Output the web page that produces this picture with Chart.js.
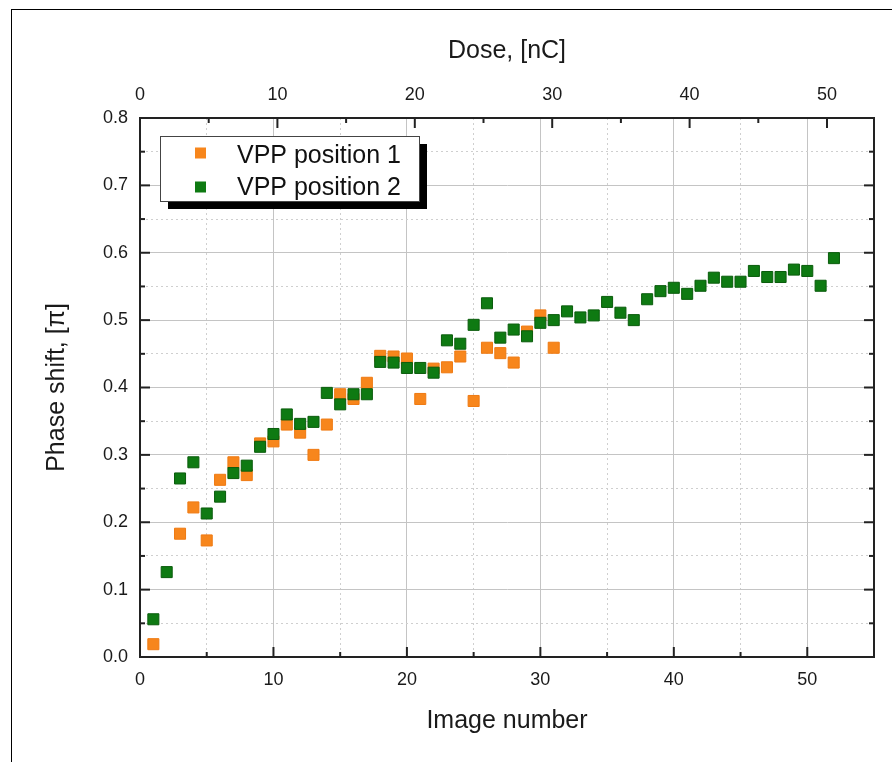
<!DOCTYPE html>
<html>
<head>
<meta charset="utf-8">
<script src="https://cdn.jsdelivr.net/npm/chart.js@4.4.0/dist/chart.umd.min.js"></script>
<style>
  html, body { margin: 0; padding: 0; background: #fff; }
  #frame { position: absolute; left: 11px; top: 9px; width: 900px; height: 800px;
           border-left: 1.5px solid #000; border-top: 1.5px solid #000; }
  #c { position: absolute; left: 0; top: 0; }
</style>
</head>
<body>
<div id="frame"></div>
<canvas id="c" width="892" height="762"></canvas>
<script>
// ---- data ----
const pos1Images = [1,3,4,5,6,7,8,9,10,11,12,13,14,15,16,17,18,19,20,21,22,23,24,25,26,27,28,29,30,31];
const pos1Phase  = [0.019,0.183,0.222,0.173,0.263,0.289,0.270,0.317,0.320,0.345,0.333,0.300,0.345,0.390,0.383,0.407,0.447,0.446,0.443,0.383,0.428,0.430,0.446,0.380,0.459,0.451,0.437,0.483,0.507,0.459];
const pos2Images = [1,2,3,4,5,6,7,8,9,10,11,12,13,14,15,16,17,18,19,20,21,22,23,24,25,26,27,28,29,30,31,32,33,34,35,36,37,38,39,40,41,42,43,44,45,46,47,48,49,50,51,52];
const pos2Phase  = [0.056,0.126,0.265,0.289,0.213,0.238,0.273,0.284,0.312,0.331,
                    0.360,0.346,0.349,0.392,0.375,0.390,0.390,0.438,0.437,0.429,
                    0.429,0.422,0.470,0.465,0.493,0.525,0.474,0.486,0.476,0.496,
                    0.500,0.513,0.504,0.507,0.527,0.511,0.500,0.531,0.543,0.548,
                    0.539,0.551,0.563,0.557,0.557,0.573,0.564,0.564,0.575,0.573,
                    0.551,0.592];
const seriesNames = ['VPP position 1', 'VPP position 2'];
const xRange = [0, 55];
const doseRange = [0, 53.42];
const yRange = [0, 0.8];

const FONT = '"Liberation Sans", Arial, sans-serif';
const ORANGE = '#f7861c', ORANGE_B = '#ef7a12';
const GREEN = '#0e7a12', GREEN_B = '#0a5c0c';

const isMult = (v, step) => Math.abs(v / step - Math.round(v / step)) < 1e-6;

// inward ticks on all four axes
const inTicks = {
  id: 'inTicks',
  afterDraw(chart) {
    const ctx = chart.ctx, a = chart.chartArea;
    ctx.save();
    ctx.strokeStyle = '#222';
    ctx.lineWidth = 2;
    const draw = (scale, majorStep, side) => {
      scale.ticks.forEach(t => {
        if (!isMult(t.value, majorStep / 2)) return;
        const p = scale.getPixelForValue(t.value);
        const len = isMult(t.value, majorStep) ? 10 : 5;
        ctx.beginPath();
        if (side === 'bottom') { ctx.moveTo(p, a.bottom); ctx.lineTo(p, a.bottom - len); }
        if (side === 'top')    { ctx.moveTo(p, a.top);    ctx.lineTo(p, a.top + len); }
        if (side === 'left')   { ctx.moveTo(a.left, p);   ctx.lineTo(a.left + len, p); }
        if (side === 'right')  { ctx.moveTo(a.right, p);  ctx.lineTo(a.right - len, p); }
        ctx.stroke();
      });
    };
    draw(chart.scales.x, 10, 'bottom');
    draw(chart.scales.x2, 10, 'top');
    draw(chart.scales.y, 0.1, 'left');
    draw(chart.scales.y2, 0.1, 'right');
    ctx.restore();
  }
};

// legend box with drop shadow inside plot
const boxLegend = {
  id: 'boxLegend',
  afterDraw(chart) {
    const ctx = chart.ctx;
    const x = 160, y = 136, w = 259, h = 65;
    ctx.save();
    ctx.fillStyle = '#000';
    ctx.fillRect(x + 8, y + 8, w, h);
    ctx.fillStyle = '#fff';
    ctx.fillRect(x, y, w, h);
    ctx.strokeStyle = '#444';
    ctx.lineWidth = 1;
    ctx.strokeRect(x + 0.5, y + 0.5, w, h);
    const rows = [
      { c: ORANGE, ty: 153, by: 163 },
      { c: GREEN, ty: 187, by: 195 }
    ];
    ctx.font = '25px ' + FONT;
    ctx.textBaseline = 'alphabetic';
    rows.forEach((r, i) => {
      ctx.fillStyle = r.c;
      ctx.fillRect(x + 35, r.ty - 5.5, 11, 11);
      ctx.fillStyle = '#111';
      ctx.fillText(seriesNames[i], x + 77, r.by);
    });
    ctx.restore();
  }
};

const gridColor = ctx => (ctx.tick && isMult(ctx.tick.value, ctx.scale.axis === 'x' ? 10 : 0.1)) ? '#c4c4c4' : '#cfcfcf';
const gridDash = ctx => (ctx.tick && isMult(ctx.tick.value, ctx.scale.axis === 'x' ? 10 : 0.1)) ? [] : [2, 3];

const tickFont = { family: FONT, size: 18 };
const titleFont = { family: FONT, size: 25 };

new Chart(document.getElementById('c'), {
  type: 'scatter',
  data: {
    datasets: [
      {
        label: seriesNames[1],
        data: pos2Images.map((v, i) => ({ x: v, y: pos2Phase[i] })),
        pointStyle: 'rect', pointRadius: 7.8, pointHoverRadius: 7.8,
        backgroundColor: GREEN, borderColor: GREEN_B, borderWidth: 1,
        order: 0, xAxisID: 'x', yAxisID: 'y'
      },
      {
        label: seriesNames[0],
        data: pos1Images.map((v, i) => ({ x: v, y: pos1Phase[i] })),
        pointStyle: 'rect', pointRadius: 7.8, pointHoverRadius: 7.8,
        backgroundColor: ORANGE, borderColor: ORANGE_B, borderWidth: 1,
        order: 1, xAxisID: 'x', yAxisID: 'y'
      }
    ]
  },
  options: {
    responsive: false,
    animation: false,
    devicePixelRatio: 1,
    layout: { padding: 0 },
    plugins: { legend: { display: false }, tooltip: { enabled: false } },
    scales: {
      x: {
        type: 'linear', position: 'bottom', min: xRange[0], max: xRange[1],
        afterFit: s => { s.height = 105; },
        ticks: { stepSize: 5, padding: 12, color: '#1a1a1a', font: tickFont, maxRotation: 0, autoSkip: false,
                 callback: v => isMult(v, 10) ? String(v) : '' },
        grid: { drawTicks: false, color: gridColor, lineWidth: 1 },
        border: { display: true, color: '#222', width: 2, dash: gridDash },
        title: { display: true, text: 'Image number', color: '#1a1a1a', font: titleFont, padding: { top: 0, bottom: 26 } }
      },
      x2: {
        type: 'linear', position: 'top', min: doseRange[0], max: doseRange[1],
        afterFit: s => { s.height = 118; },
        ticks: { stepSize: 5, padding: 12, color: '#1a1a1a', font: tickFont, maxRotation: 0,
                 autoSkip: false, includeBounds: false,
                 callback: v => isMult(v, 10) ? String(v) : '' },
        grid: { drawTicks: false, drawOnChartArea: false },
        border: { display: true, color: '#222', width: 2 },
        title: { display: true, text: 'Dose, [nC]', color: '#1a1a1a', font: titleFont, padding: { top: 36, bottom: 0 } }
      },
      y: {
        type: 'linear', position: 'left', min: yRange[0], max: yRange[1],
        afterFit: s => { s.width = 140; },
        ticks: { stepSize: 0.05, padding: 12, color: '#1a1a1a', font: tickFont, autoSkip: false,
                 callback: v => isMult(v, 0.1) ? v.toFixed(1) : '' },
        grid: { drawTicks: false, color: gridColor, lineWidth: 1 },
        border: { display: true, color: '#222', width: 2, dash: gridDash },
        title: { display: true, text: 'Phase shift, [π]', color: '#1a1a1a', font: titleFont, padding: { top: 42, bottom: 0 } }
      },
      y2: {
        type: 'linear', position: 'right', min: yRange[0], max: yRange[1],
        afterFit: s => { s.width = 18; },
        ticks: { stepSize: 0.05, display: false, autoSkip: false },
        grid: { drawTicks: false, drawOnChartArea: false },
        border: { display: true, color: '#222', width: 2 }
      }
    }
  },
  plugins: [inTicks, boxLegend]
});
</script>
</body>
</html>
